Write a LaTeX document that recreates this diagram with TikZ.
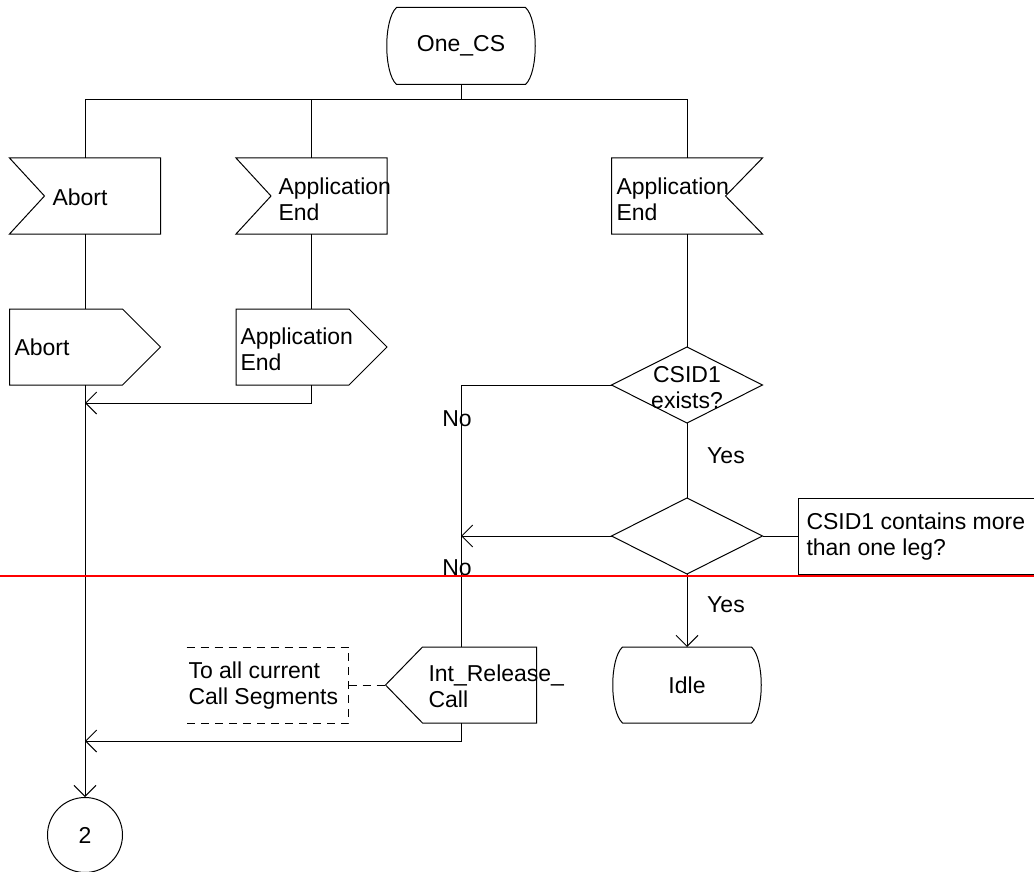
\documentclass[tikz,border=0pt]{standalone}
\usepackage{fontspec}
\setmainfont{Liberation Sans}
\usetikzlibrary{arrows.meta,calc}
\begin{document}
\begin{tikzpicture}[x=1pt,y=-1pt,line width=1pt,
  hold/.style={minimum width=150pt,minimum height=75pt,inner sep=0pt,draw=none},
  txt/.style={font=\fontsize{23}{26}\selectfont,inner sep=0pt,align=left},
  ctxt/.style={font=\fontsize{23}{26}\selectfont,inner sep=0pt,align=center},
  arr/.style={-{Straight Barb[length=11pt,width=22pt]}},
  dsh/.style={dash pattern=on 8pt off 6pt}]
\useasboundingbox (0,0) rectangle (1034,872);

% holders
\node[hold,minimum height=76pt] (onecs) at (461,46) {};
\node[hold] (abin) at (85,196) {};
\node[hold] (aein) at (311.5,196) {};
\node[hold] (aein2) at (687,196) {};
\node[hold] (about) at (85,347) {};
\node[hold] (aeout) at (311.5,347) {};
\node[hold] (d1) at (687,385) {};
\node[hold] (d2) at (687,536) {};
\node[hold,minimum width=234pt] (cmt) at (916,536) {};
\node[hold] (idle) at (687,685) {};
\node[hold] (intrel) at (461,685) {};
\node[hold,minimum width=161pt] (cmt2) at (267.5,685) {};
\node[circle,draw,minimum size=75pt,inner sep=0pt] (c2) at (85,835) {};
\coordinate (split) at (461,100);
\coordinate (j1) at (311.5,403);
\coordinate (j2) at (461,741);

% state shapes
\foreach \n in {onecs,idle}{
  \draw ($(\n.north west)+(11,0)$) -- ($(\n.north east)+(-11,0)$)
    .. controls ($(\n.north east)+(2,12)$) and ($(\n.south east)+(2,-12)$) .. ($(\n.south east)+(-11,0)$)
    -- ($(\n.south west)+(11,0)$)
    .. controls ($(\n.south west)+(-2,-12)$) and ($(\n.north west)+(-2,12)$) .. ($(\n.north west)+(11,0)$) -- cycle;
}
% inputs (notch left)
\foreach \n in {abin,aein}{
  \draw (\n.north west) -- (\n.north east) -- (\n.south east) -- (\n.south west) -- ($(\n.west)+(35,0)$) -- cycle;
}
% input (notch right)
\draw (aein2.north west) -- (aein2.north east) -- ($(aein2.east)+(-37,0)$) -- (aein2.south east) -- (aein2.south west) -- cycle;
% outputs (point right)
\foreach \n in {about,aeout}{
  \draw (\n.north west) -- ($(\n.north east)+(-38,0)$) -- (\n.east) -- ($(\n.south east)+(-38,0)$) -- (\n.south west) -- cycle;
}
% output (point left)
\draw (intrel.west) -- ($(intrel.north west)+(37,0)$) -- (intrel.north east) -- (intrel.south east) -- ($(intrel.south west)+(37,0)$) -- cycle;
% decisions
\foreach \n in {d1,d2}{
  \draw (\n.north) -- (\n.east) -- (\n.south) -- (\n.west) -- cycle;
}
% comments
\draw (cmt.east |- cmt.north) -- (cmt.north west) -- (cmt.south west) -- (cmt.south east);
\draw[dsh] (cmt2.north west) -- (cmt2.north east) -- (cmt2.south east) -- (cmt2.south west);

% texts
\node[ctxt] at (onecs) {One\_CS};
\node[ctxt] at (80,197) {Abort};
\node[txt,anchor=west] at (278,199) {Application\\End};
\node[txt,anchor=west] at (616,199) {Application\\End};
\node[txt,anchor=west] at (14,347) {Abort};
\node[txt,anchor=west] at (240,349) {Application\\End};
\node[ctxt] at (687,388) {CSID1\\exists?};
\node[txt,anchor=west] at (806,537) {CSID1 contains more\\than one leg?};
\node[ctxt] at (idle) {Idle};
\node[txt,anchor=west] at (428,686) {Int\_Release\_\\Call};
\node[txt,anchor=west] at (188,686) {To all current\\Call Segments};
\node[ctxt] at (c2) {2};
\node[ctxt] (no1) at (457,419) {No};
\node[ctxt] (no2) at (457,568) {No};
\node[ctxt] (yes1) at (726,456) {Yes};
\node[ctxt] (yes2) at (726,605) {Yes};

% connectors
\draw (onecs.south) -- (split);
\draw (abin.north) -- (abin.north |- split) -- (aein2.north |- split) -- (aein2.north);
\draw (aein.north |- split) -- (aein.north);
\draw (abin.south) -- (about.north);
\draw (aein.south) -- (aeout.north);
\draw[arr] (about.south) -- (c2.north);
\draw[arr] (aeout.south) -- (j1) -- (about.south |- j1);
\draw (aein2.south) -- (d1.north);
\draw (d1.west) -- (intrel.north |- d1.west) -- (intrel.north);
\draw (d1.south) -- (d2.north);
\draw[arr] (d2.west) -- (intrel.north |- d2.west);
\draw (d2.east) -- (cmt.west);
\draw[arr] (d2.south) -- (idle.north);
\draw[dsh] (cmt2.east) -- (intrel.west);
\draw[arr] (intrel.south) -- (j2) -- (about.south |- j2);

% page marker
\draw[red,line width=1.5pt] (0,576) -- (1034,576);
\end{tikzpicture}
\end{document}
